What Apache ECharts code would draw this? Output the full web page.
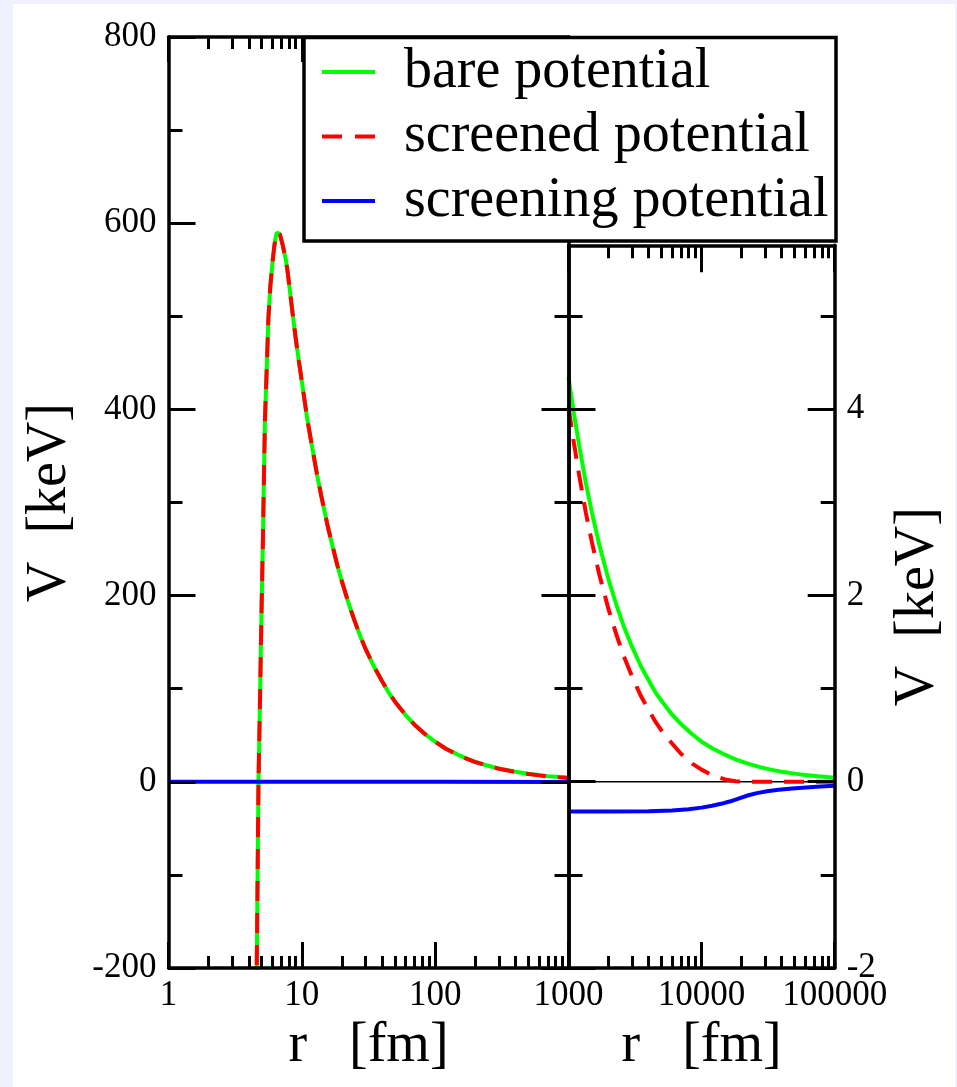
<!DOCTYPE html>
<html><head><meta charset="utf-8">
<script src="https://cdn.jsdelivr.net/npm/echarts@6/dist/echarts.min.js"></script>
<style>
html,body{margin:0;padding:0;background:#f0f0ff;}
#paper{position:absolute;left:13px;top:4px;width:942px;height:1083px;background:#fff;}
#chart{position:absolute;left:0;top:0;width:957px;height:1087px;}
</style></head><body><div id="paper"></div><div id="chart"></div>
<script>
// ---- data ----
const seriesNames = ['bare potential', 'screened potential', 'screening potential'];

// left panel: r in fm (1 .. 1000), V in keV
const rLeft        = [4.55, 4.59, 4.66, 4.73, 4.86, 4.98, 5.12, 5.20, 5.29, 5.45, 5.61, 5.80, 6.05, 6.20, 6.35, 6.50, 6.59, 6.70, 6.85, 7.00, 7.20, 7.40, 7.61, 7.85, 8.10, 8.35, 8.63, 9.00, 9.50, 10.0, 11.0, 12.0, 13.0, 14.0, 15.5, 17.0, 18.5, 20.0, 22.5, 25.0, 27.5, 30.0, 35.0, 40.0, 45.0, 50.0, 60.0, 70.0, 85.0, 100, 120, 150, 175, 200, 250, 300, 400, 500, 600, 700, 850, 1000];
const bareLeft     = [-300, -200, -100, 0, 90, 180, 269, 329, 389, 442, 497, 532, 560, 574, 584, 590, 591, 590.5, 588, 583, 576, 568, 560, 546, 530, 514, 497, 476, 452, 430, 389, 358, 330, 307, 277, 253, 232, 215, 191, 172, 156, 143, 123, 108, 95.5, 86, 71.7, 61.4, 50.6, 43, 35.8, 28.7, 24.6, 21.5, 17.2, 14.3, 10.8, 8.6, 7.2, 6.1, 5.1, 4.3];
const screenedLeft = [-300, -200, -100, 0, 90, 180, 269, 329, 389, 442, 497, 532, 560, 574, 584, 590, 591, 590.5, 588, 583, 576, 568, 560, 546, 530, 514, 497, 476, 452, 430, 389, 358, 330, 307, 277, 253, 232, 215, 191, 172, 156, 143, 123, 108, 95.5, 86, 71.7, 61.4, 50.6, 43, 35.5, 28.4, 24.3, 21.2, 16.9, 14.0, 10.5, 8.3, 6.9, 5.8, 4.8, 4.0];
const rScreenLeft  = [1, 10, 100, 1000];
const screenLeft   = [0, 0, 0, -0.3];

// right panel: r in fm (1000 .. 100000), V in keV
const rRight        = [1000, 1100, 1200, 1350, 1500, 1700, 2000, 2300, 2600, 3000, 3500, 4000, 4500, 5000, 6000, 7000, 8500, 10000, 12000, 15000, 18000, 22000, 27000, 33000, 40000, 50000, 60000, 75000, 100000];
const bareRight     = [4.34, 3.95, 3.62, 3.21, 2.89, 2.55, 2.17, 1.89, 1.67, 1.45, 1.24, 1.09, 0.96, 0.87, 0.72, 0.62, 0.51, 0.43, 0.36, 0.29, 0.24, 0.197, 0.16, 0.13, 0.108, 0.087, 0.072, 0.058, 0.043];
const screenedRight = [4.02, 3.63, 3.30, 2.89, 2.57, 2.23, 1.85, 1.57, 1.35, 1.13, 0.92, 0.77, 0.645, 0.55, 0.41, 0.30, 0.195, 0.13, 0.07, 0.025, 0.006, 0.0, 0.0, 0.0, 0.0, 0.0, 0.0, 0.0, 0.0];
const rScreenRight  = [1000, 2000, 4000, 6000, 8000, 10000, 12000, 14000, 16500, 19400, 22500, 26000, 31000, 38000, 48000, 61000, 78000, 100000];
const screenRight   = [-0.32, -0.32, -0.317, -0.31, -0.295, -0.278, -0.258, -0.237, -0.21, -0.175, -0.145, -0.122, -0.102, -0.086, -0.072, -0.061, -0.051, -0.043];
const zeroR = [1000, 100000];
const zeroV = [0, 0];

// ticks
const xMajorLeft  = [1, 10, 100, 1000];
const xMinorLeft  = [2,3,4,5,6,7,8,9,20,30,40,50,60,70,80,90,200,300,400,500,600,700,800,900];
const xLabelsLeft = [1, 10, 100, 1000];
const xMajorRight = [1000, 10000, 100000];
const xMinorRight = [2000,3000,4000,5000,6000,7000,8000,9000,20000,30000,40000,50000,60000,70000,80000,90000];
const xLabelsRight = [10000, 100000];
const yMajorRight = [-2, 0, 2, 4];
const yMinorRight = [-1, 1, 3, 5];

const zip = (a, b) => a.map((v, i) => [v, b[i]]);
const FONT = "'Liberation Serif', 'Times New Roman', serif";
const BLACK = '#000';
const AXW = 3.5, TKW = 3, TICKFS = 35;

function xAxisDef(grid, min, max, pos, vals, len, labels, name) {
  return {
    type: 'log', logBase: 10, gridIndex: grid, min: min, max: max, position: pos, z: 3,
    axisLine: { show: true, onZero: false, lineStyle: { color: BLACK, width: AXW } },
    axisTick: { show: true, inside: true, length: len, customValues: vals, lineStyle: { color: BLACK, width: TKW } },
    axisLabel: labels ? { show: true, customValues: labels, color: BLACK, fontFamily: FONT, fontSize: TICKFS, margin: 10,
      formatter: v => String(Math.round(v)) } : { show: false },
    splitLine: { show: false }, minorTick: { show: false }, minorSplitLine: { show: false },
    name: name || '', nameLocation: 'middle', nameGap: 45,
    nameTextStyle: { color: BLACK, fontFamily: FONT, fontSize: 56 }
  };
}

const xAxes = [
  xAxisDef(0, 1, 1000, 'bottom', xMajorLeft, 26, xLabelsLeft, 'r   [fm]'),
  xAxisDef(0, 1, 1000, 'bottom', xMinorLeft, 12, null),
  xAxisDef(0, 1, 1000, 'top', xMajorLeft, 25, null),
  xAxisDef(0, 1, 1000, 'top', xMinorLeft, 12, null),
  xAxisDef(1, 1000, 100000, 'bottom', xMajorRight, 26, xLabelsRight, 'r   [fm]'),
  xAxisDef(1, 1000, 100000, 'bottom', xMinorRight, 12, null),
  xAxisDef(1, 1000, 100000, 'top', xMajorRight, 27, null),
  xAxisDef(1, 1000, 100000, 'top', xMinorRight, 13, null)
];
xAxes[1].axisLine.show = false; xAxes[3].axisLine.show = false;
xAxes[5].axisLine.show = false; xAxes[7].axisLine.show = false;

const yLeftBase = {
  type: 'value', gridIndex: 0, min: -200, max: 800, interval: 200, z: 3,
  axisLine: { show: true, onZero: false, lineStyle: { color: BLACK, width: AXW } },
  axisTick: { show: true, inside: true, length: 27, lineStyle: { color: BLACK, width: TKW } },
  minorTick: { show: true, splitNumber: 2, length: 14, lineStyle: { color: BLACK, width: TKW } },
  splitLine: { show: false }, minorSplitLine: { show: false }
};

function yRight(pos, vals, len, labels, line, name) {
  return {
    type: 'value', gridIndex: 1, min: -2, max: 5.76, interval: 2, position: pos, z: 3,
    axisLine: { show: line, onZero: false, lineStyle: { color: BLACK, width: AXW } },
    axisTick: { show: true, inside: true, length: len, customValues: vals, lineStyle: { color: BLACK, width: TKW } },
    axisLabel: labels ? { show: true, customValues: labels, color: BLACK, fontFamily: FONT, fontSize: TICKFS, margin: 12,
      formatter: v => (Math.abs(v - Math.round(v)) < 1e-6 ? String(Math.round(v)) : '') } : { show: false },
    splitLine: { show: false }, minorTick: { show: false }, minorSplitLine: { show: false },
    name: name || '', nameLocation: 'middle', nameGap: 56, nameRotate: 90,
    nameTextStyle: { color: BLACK, fontFamily: FONT, fontSize: 56 }
  };
}

const yAxes = [
  Object.assign({}, yLeftBase, { position: 'left',
    axisLabel: { show: true, color: BLACK, fontFamily: FONT, fontSize: TICKFS, margin: 12 },
    name: 'V  [keV]', nameLocation: 'middle', nameGap: 90, nameRotate: 90,
    nameTextStyle: { color: BLACK, fontFamily: FONT, fontSize: 56 } }),
  Object.assign({}, yLeftBase, { position: 'right', axisLabel: { show: false } }),
  yRight('left', yMajorRight, 27, null, true),
  yRight('left', yMinorRight, 14, null, false),
  yRight('right', yMajorRight, 27, yMajorRight, true, 'V  [keV]'),
  yRight('right', yMinorRight, 14, null, false)
];

const GREEN = '#00ff00', RED = '#ff0000', BLUE = '#0000ff';
const DASH = [20, 12];
function lineSeries(name, xi, yi, data, color, dashed, z) {
  return {
    name: name, type: 'line', xAxisIndex: xi, yAxisIndex: yi, data: data,
    symbol: 'none', showSymbol: false, smooth: false, clip: true, z: z || 2,
    lineStyle: { color: color, width: 4, type: dashed ? DASH : 'solid' },
    itemStyle: { color: color }, animation: false
  };
}

const series = [
  lineSeries('zero', 4, 2, zip(zeroR, zeroV), BLACK, false, 1),
  lineSeries(seriesNames[0], 0, 0, zip(rLeft, bareLeft), GREEN, false),
  lineSeries(seriesNames[1], 0, 0, zip(rLeft, screenedLeft), RED, true),
  lineSeries(seriesNames[2], 0, 0, zip(rScreenLeft, screenLeft), BLUE, false),
  lineSeries(seriesNames[0], 4, 2, zip(rRight, bareRight), GREEN, false),
  lineSeries(seriesNames[1], 4, 2, zip(rRight, screenedRight), RED, true),
  lineSeries(seriesNames[2], 4, 2, zip(rScreenRight, screenRight), BLUE, false)
];
series[0].lineStyle.width = 1.5;

const chart = echarts.init(document.getElementById('chart'), null, { renderer: 'canvas' });
chart.setOption({
  animation: false,
  backgroundColor: 'transparent',
  grid: [
    { left: 168.5, top: 37, width: 400, height: 931, containLabel: false },
    { left: 568.5, top: 245.3, width: 266.2, height: 722.7, containLabel: false }
  ],
  xAxis: xAxes,
  yAxis: yAxes,
  graphic: [{
    type: 'rect', z: 5, silent: true,
    shape: { x: 304, y: 37.5, width: 532, height: 203.5 },
    style: { fill: '#fff', stroke: BLACK, lineWidth: 3.5 }
  }],
  legend: {
    data: [
      { name: seriesNames[0], lineStyle: { width: 4, color: GREEN, type: 'solid' } },
      { name: seriesNames[1], lineStyle: { width: 4, color: RED, type: [20, 13] } },
      { name: seriesNames[2], lineStyle: { width: 4, color: BLUE, type: 'solid' } }
    ],
    orient: 'vertical', left: 320, top: 44, z: 6,
    padding: 0, itemWidth: 53, itemHeight: 56, itemGap: 8.5, selectedMode: false,
    backgroundColor: 'transparent',
    itemStyle: { opacity: 0 },
    lineStyle: { width: 4 },
    textStyle: { color: BLACK, fontFamily: FONT, fontSize: 56, lineHeight: 56, padding: [0, 0, 0, 24] }
  },
  series: series
});
</script></body></html>
